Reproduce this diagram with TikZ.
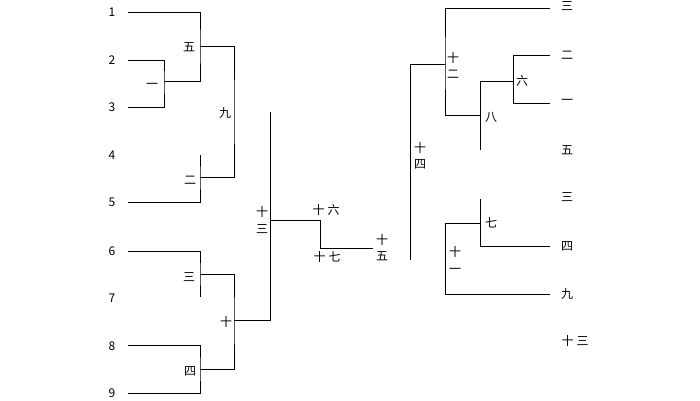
\documentclass[tikz,border=0pt]{standalone}
\usepackage{fontspec}
\setmainfont{Noto Sans CJK SC}
\newfontfamily\cjk{Noto Sans CJK SC}
\begin{document}
\begin{tikzpicture}[x=1pt,y=-1pt,
  lbl/.style={inner sep=0pt,font=\cjk\fontsize{12}{16.5}\selectfont,align=center},
  edge/.style={draw=black,line width=0.8pt}]
\useasboundingbox (0,0) rectangle (700,400);
% ---------- left tree: leaf labels ----------
\foreach \n/\y in {1/12,2/60,3/107,4/155,5/202,6/251,7/298,8/346,9/393}
  \node[lbl] (L\n) at (112,\y) {\n};
% leaf starts
\coordinate (s1) at (128,12);
\coordinate (s2) at (128,60);
\coordinate (s3) at (128,107);
\coordinate (s5) at (128,202);
\coordinate (s6) at (128,251);
\coordinate (s8) at (128,345);
\coordinate (s9) at (128,393);
% joints
\coordinate (n1) at (164,81);
\coordinate (n5) at (200,46);
\coordinate (t4) at (200,155);
\coordinate (n2) at (200,177);
\coordinate (n9) at (234,111.5);
\coordinate (n3) at (200,274);
\coordinate (t7) at (200,297);
\coordinate (n4) at (200,369);
\coordinate (n10) at (234,320);
\coordinate (t13) at (270,112);
\coordinate (n13) at (270,220);
\coordinate (n17) at (320,248);
\coordinate (e15) at (373,248);
\path[edge] (s2) -| (n1) |- (s3);
\path[edge] (s1) -| (n5) |- (n1);
\path[edge] (t4) -- (n2) |- (s5);
\path[edge] (n5) -| (n9) |- (n2);
\path[edge] (s6) -| (n3) -- (t7);
\path[edge] (s8) -| (n4) |- (s9);
\path[edge] (n3) -| (n10) |- (n4);
\path[edge] (n10) -| (t13);
\path[edge] (n13) -| (n17) -- (e15);
% left labels
\node[lbl] (l1) at (152,86) {一};
\node[lbl] (l5) at (189,47) {五};
\node[lbl] (l9) at (225,113) {九};
\node[lbl] (l2) at (190,180) {二};
\node[lbl] (l3) at (189,277) {三};
\node[lbl] (l10) at (226,322) {十};
\node[lbl] (l4) at (190,371) {四};
\node[lbl] (l13) at (262,220) {十\\三};
\node[lbl] (l16) at (326,210) {十\hspace{3pt}六};
\node[lbl] (l17) at (327,257) {十\hspace{3pt}七};
\node[lbl] (l15) at (382,247.5) {十\\五};
% ---------- right tree ----------
\coordinate (rs0) at (550,8);
\coordinate (rs1) at (550,55);
\coordinate (rs2) at (550,103);
\coordinate (rs5) at (550,246);
\coordinate (rs6) at (550,294);
\coordinate (n12) at (445,64);
\coordinate (n8) at (480,115);
\coordinate (n6) at (513,81);
\coordinate (t5) at (480,150);
\coordinate (b14) at (410,260);
\coordinate (t3) at (480,199);
\coordinate (n7) at (480,223);
\coordinate (n11) at (445,223);
\path[edge] (rs0) -| (n12) |- (n8);
\path[edge] (rs1) -| (n6) |- (rs2);
\path[edge] (n6) -| (t5);
\path[edge] (n12) -| (b14);
\path[edge] (t3) |- (rs5);
\path[edge] (n7) -- (n11) |- (rs6);
% right labels
\node[lbl] (r12) at (453,65.5) {十\\二};
\node[lbl] (r6) at (522,81) {六};
\node[lbl] (r8) at (491,117) {八};
\node[lbl] (r14) at (420,155.5) {十\\四};
\node[lbl] (r7) at (491,223) {七};
\node[lbl] (r11) at (455,260) {十\\一};
\node[lbl] (R0) at (567,6.5) {三};
\node[lbl] (R1) at (567,55) {二};
\node[lbl] (R2) at (567,102) {一};
\node[lbl] (R3) at (567,150) {五};
\node[lbl] (R4) at (567,197) {三};
\node[lbl] (R5) at (567,246) {四};
\node[lbl] (R6) at (567,294) {九};
\node[lbl] (R7) at (575,341) {十\hspace{3pt}三};
\end{tikzpicture}
\end{document}
